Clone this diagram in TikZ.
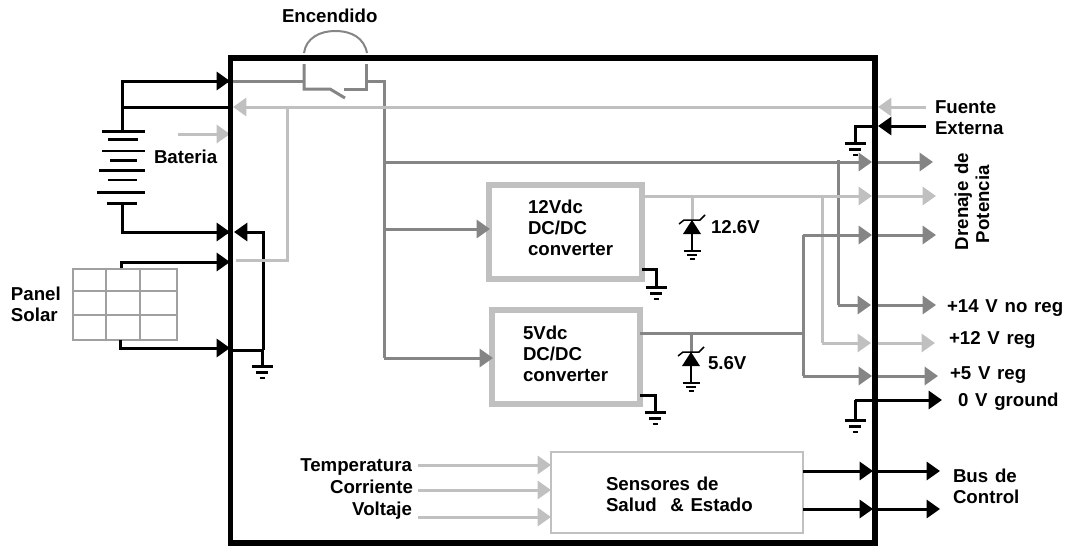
\documentclass[tikz,border=0pt]{standalone}
\usepackage{fontspec}
\setmainfont[WordSpace=1.3]{Liberation Sans}
\usetikzlibrary{arrows.meta}
\definecolor{wgrey}{HTML}{858585}
\definecolor{wlight}{HTML}{C0C0C0}
\definecolor{wgrid}{HTML}{A0A0A0}
\tikzset{
  px/.style={line width=#1*0.75pt},
  blk/.style={px=3,black},
  gry/.style={px=3,wgrey},
  lgt/.style={px=3,wlight},
  tip/.style={-{Triangle[length=10pt,width=13.5pt]}},
  lbl/.style={inner sep=0pt,outer sep=0pt,font=\bfseries\fontsize{14}{16}\selectfont,text=black},
  lblL/.style={lbl,anchor=base west},
  lblR/.style={lbl,anchor=base east},
  blockbox/.style={inner sep=0pt,outer sep=0pt},
  plate/.style={px=#1,black,line cap=butt},
  gnd/.pic={
    \draw[plate=3] (-10.5,0) -- (10.5,0);
    \draw[plate=3] (-6,6) -- (6,6);
    \draw[plate=2.5] (-2.5,12) -- (2.5,12);
  },
  sgnd/.pic={
    \draw[plate=1.5] (-8.5,0) -- (8.5,0);
    \draw[plate=1.5] (-5,4) -- (5,4);
    \draw[plate=1.5] (-2.5,8) -- (2.5,8);
  },
  zener/.pic={
    \fill[black] (0,0) -- (9,14) -- (-9,14) -- cycle;
    \draw[px=1.5,black] (-13,4) -- (-8,0) -- (8,0) -- (13,-5);
  },
}
\begin{document}
\begin{tikzpicture}[x=0.75pt,y=-0.75pt]
\useasboundingbox (0,0) rectangle (1067,550);
% --- blocks
\node[blockbox,draw=wlight,px=6,minimum width=153*0.75pt,minimum height=94*0.75pt] (conv12) at (565,231.5) {};
\node[blockbox,draw=wlight,px=6,minimum width=148*0.75pt,minimum height=94*0.75pt] (conv5) at (565.5,357) {};
\node[blockbox,draw=wlight,px=2,minimum width=252*0.75pt,minimum height=81*0.75pt] (sensors) at (677,492.5) {};
\node[blockbox,draw=wgrid,px=2,minimum width=104*0.75pt,minimum height=71*0.75pt] (panel) at (125,304.5) {};
\draw[wgrid,px=2] (106,269) -- (106,340) (140,269) -- (140,340) (73,291) -- (177,291) (73,315) -- (177,315);
% --- named points
\coordinate (battop) at (122,131);
\coordinate (batbot) at (122,203);
\coordinate (inA) at (230,81);
\coordinate (inB) at (230,107);
\coordinate (inC) at (230,232);
\coordinate (inD) at (230,262);
\coordinate (inE) at (230,348);
\coordinate (inF) at (230,134);
\coordinate (batarrow) at (178,134);
\coordinate (swL) at (304,81);
\coordinate (swR) at (366,81);
\coordinate (bus) at (384,81);
\coordinate (extL) at (926,107);
\coordinate (extB) at (926,126);
\coordinate (rEdge) at (875,107);
\coordinate (railA) at (384,162);
\coordinate (railB) at (384,229);
\coordinate (railC) at (384,358);
\coordinate (tapD) at (287,107);
\coordinate (tapE) at (287,260);
\coordinate (tapF) at (236,260);
\coordinate (retC) at (263,232);
\coordinate (retE) at (263,350);
\coordinate (gndA) at (262,366);
\coordinate (gndB) at (855,143);
\coordinate (gndC) at (855,420);
\coordinate (gndD) at (656,287);
\coordinate (gndE) at (655,412);
\coordinate (junc5) at (803,333);
\coordinate (junc5t) at (803,235);
\coordinate (junc5b) at (803,376);
\coordinate (junc12) at (822,196);
\coordinate (junc12b) at (822,343);
\coordinate (junc14) at (838,160);
\coordinate (junc14b) at (838,305);
\coordinate (zenA) at (692,220);
\coordinate (zenB) at (691,352);
\coordinate (zenAg) at (692,251);
\coordinate (zenBg) at (691,383);
% --- battery
\draw[blk] (inA) -| (battop);
\draw[blk] (122,107) -- (inB);
\draw[blk] (batbot) |- (inC);
\foreach \yy/\xa/\xb/\ww in {131/102/145/3,139/108/138/3,151/102/145/1.5,160/110/137/3,170/99/145/3,180/108/137/1.5,192/97/145/3,203/107/137/3}
  \draw[plate=\ww] (\xa,\yy) -- (\xb,\yy);
\draw[blk,tip] (122,81) -- (inA);
\draw[blk,tip] (122,232) -- (inC);
\draw[lgt,tip] (batarrow) -- (inF);
% --- panel
\draw[blk,tip] (121,268) |- (inD);
\draw[blk,tip] (120,340) |- (inE);
% --- return to ground
\draw[blk,tip] (retE) -- (retC) -- (234,232);
\draw[blk] (233,350) -- (retE) (262,350) -- (gndA);
\pic at (gndA) {gnd};
% --- power switch
\draw[wgrey,px=2] (304,53) .. controls (306,38) and (320,31) .. (335,31) .. controls (352,31) and (364,38) .. (367,53);
\draw[gry] (233,81) -- (swL);
\draw[gry] (304,64) -- (304,89) -- (330,89) -- (345,98);
\draw[gry] (344,89) -- (366,89) -- (366,64);
\draw[gry] (swR) -- (bus) -- (railC);
\draw[gry,tip] (railC) -- (493,358);
\draw[gry,tip] (railB) -- (490,229);
% --- external supply
\draw[lgt,tip] (extL) -- (878,107);
\draw[lgt,tip] (rEdge) -- (233,107);
\draw[lgt] (tapD) -- (tapE) -- (tapF);
\draw[blk,tip] (extB) -- (878,126);
\draw[blk] (873,126) -- (855,126) -- (gndB);
\pic at (gndB) {gnd};
% --- power rails
\draw[gry,tip] (railA) -- (872,162);
\draw[gry,tip] (878,162) -- (933,162);
\draw[gry] (junc14) -- (junc14b);
\draw[gry,tip] (junc14b) -- (871,305);
\draw[gry,tip] (878,305) -- (936,305);
\draw[lgt,tip] (conv12.east |- junc12) -- (872,196);
\draw[lgt,tip] (878,196) -- (936,196);
\draw[lgt] (junc12) -- (junc12b);
\draw[lgt,tip] (junc12b) -- (871,343);
\draw[lgt,tip] (878,343) -- (935,343);
\draw[gry] (conv5.east |- junc5) -- (junc5);
\draw[gry] (junc5t) -- (junc5b);
\draw[gry,tip] (junc5t) -- (872,235);
\draw[gry,tip] (878,235) -- (936,235);
\draw[gry,tip] (junc5b) -- (872,376);
\draw[gry,tip] (878,376) -- (938,376);
\draw[blk,tip] (gndC |- 0,400) -- (942,400);
\draw[blk] (855,400) -- (gndC);
\pic at (gndC) {gnd};
% --- zeners
\draw[lgt] (692,196) -- (zenA);
\draw[px=2,black] (zenA) -- (zenAg);
\pic at (zenA) {zener};
\pic at (zenAg) {sgnd};
\draw[gry] (691,333) -- (zenB);
\draw[px=2,black] (zenB) -- (zenBg);
\pic at (zenB) {zener};
\pic at (zenBg) {sgnd};
% --- converter grounds
\draw[blk] (conv12.east |- 0,269) -- (656,269) -- (gndD);
\pic at (gndD) {gnd};
\draw[blk] (conv5.east |- 0,395) -- (655,395) -- (gndE);
\pic at (gndE) {gnd};
% --- sensors
\foreach \yy in {465,490,517}
  \draw[lgt,tip] (418,\yy) -- (sensors.west |- 0,\yy);
\foreach \yy in {471,509} {
  \draw[blk,tip] (sensors.east |- 0,\yy) -- (873,\yy);
  \draw[blk,tip] (875,\yy) -- (940,\yy);
}
% --- main enclosure
\node[blockbox,draw=black,px=5.5,minimum width=644.5*0.75pt,minimum height=485*0.75pt] (mainbox) at (552.75,300.5) {};
% --- labels
\node[lblL] (tEnc) at (282,22) {Encendido};
\node[lblL] (tPan) at (11,300) {Panel};
\node[lblL] (tSol) at (11,321) {Solar};
\node[lblL] (tBat) at (154,163) {Bateria};
\node[lblL] (tFue) at (935,113) {Fuente};
\node[lblL] (tExt) at (935,134) {Externa};
\node[lblL,rotate=90] (tDre) at (968,250) {Drenaje de};
\node[lblL,rotate=90] (tPot) at (989,243) {Potencia};
\node[lblL] (t14) at (947,312) {+14 V no reg};
\node[lblL] (t12) at (949,344) {+12 V reg};
\node[lblL] (t5) at (950,379) {+5 V reg};
\node[lblL] (t0) at (958,406) {0 V ground};
\node[lblL] (tz12) at (711,233) {12.6V};
\node[lblL] (tz5) at (708,369) {5.6V};
\node[lblL] (c12a) at (528,213) {12Vdc};
\node[lblL] (c12b) at (528,234) {DC/DC};
\node[lblL] (c12c) at (528,255) {converter};
\node[lblL] (c5a) at (523,339) {5Vdc};
\node[lblL] (c5b) at (523,360) {DC/DC};
\node[lblL] (c5c) at (523,381) {converter};
\node[lblR] (tTem) at (412,471) {Temperatura};
\node[lblR] (tCor) at (413,493) {Corriente};
\node[lblR] (tVol) at (412,515) {Voltaje};
\node[lblL] (tSen) at (606,490) {Sensores de};
\node[lblL] (tSal) at (606,511) {Salud\ \ \&\ Estado};
\node[lblL] (tBus) at (953,482) {Bus de};
\node[lblL] (tCon) at (953,503) {Control};
\end{tikzpicture}
\end{document}
